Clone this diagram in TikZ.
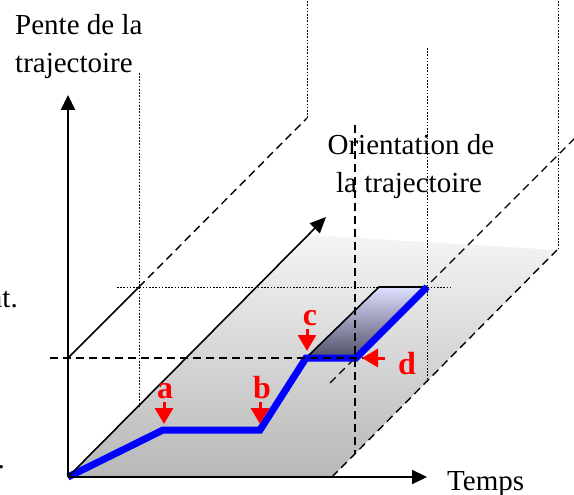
\documentclass[tikz,border=0pt]{standalone}
\usepackage{fontspec}
\setmainfont{Liberation Serif}
\usetikzlibrary{arrows.meta}
\tikzset{
  axisline/.style={line width=2.2pt, -{Triangle[length=15pt,width=14pt]}},
  thinline/.style={line width=1.6pt},
  dashline/.style={line width=1.4pt, dash pattern=on 8pt off 5pt},
  dotline/.style={line width=0.8pt, dash pattern=on 1.6pt off 1.6pt},
  redarrow/.style={red, line width=3pt, -{Triangle[length=16pt,width=18pt]}},
  bluepath/.style={blue, line width=7pt, line join=miter},
  lbl/.style={inner sep=0pt, font=\fontsize{29}{34}\selectfont},
  redlbl/.style={inner sep=0pt, text=red, font=\fontsize{32}{36}\selectfont\bfseries},
}
\begin{document}
\begin{tikzpicture}[x=1pt,y=-1pt]
\useasboundingbox (0,0) rectangle (574,495);
% key points
\coordinate (O) at (68,477);
\coordinate (B) at (332,477);
\coordinate (C) at (557,250);
\coordinate (D) at (310,235);
\coordinate (Ytip) at (68,95);
\coordinate (Xtip) at (427,477);
\coordinate (Ztip) at (326,217);
\coordinate (Pa) at (163,430);
\coordinate (Pb) at (260,430);
\coordinate (Pc) at (306,358);
\coordinate (Pd) at (356,358);
\coordinate (Pe) at (427,287);
\coordinate (Pf) at (379,287);
% plane
\shade[top color=black!4, bottom color=black!28] (O) -- (B) -- (C) -- (D) -- cycle;
% purple face
\shade[top color={rgb,255:red,222;green,222;blue,255}, bottom color={rgb,255:red,80;green,80;blue,104}] (Pc) -- (Pd) -- (Pe) -- (Pf) -- cycle;
\draw[thinline] (Pc) -- (Pf) -- (Pe);
% dotted lines
\coordinate (v1t) at (139,73);   \coordinate (v1b) at (139,406);
\coordinate (v2t) at (307,-2);   \coordinate (v2b) at (307,118);
\coordinate (v3t) at (427,48);   \coordinate (v3b) at (427,381);
\coordinate (v4t) at (558,-2);   \coordinate (v4b) at (558,249);
\coordinate (h1l) at (117,287);  \coordinate (h1r) at (452,287);
\draw[dotline] (v1t) -- (v1b);
\draw[dotline] (v2t) -- (v2b);
\draw[dotline] (v3t) -- (v3b);
\draw[dotline] (v4t) -- (v4b);
\draw[dotline] (h1l) -- (h1r);
% dashed lines
\coordinate (L2a) at (68,358);  \coordinate (L2b) at (139,287);
\draw[thinline] (L2a) -- (L2b);
\draw[dashline] (L2b) -- (v2b);
\coordinate (L4a) at (330,383); \coordinate (L4b) at (592,121);
\draw[dashline] (L4a) -- (L4b);
\draw[dashline] (B) -- (C);
% blue trajectory
\draw[bluepath] (O) -- (Pa) -- (Pb) -- (Pc) -- (Pd) -- (Pe);
% dashed over blue
\coordinate (H2l) at (50,358);  \coordinate (H2r) at (380,358);
\draw[dashline] (H2l) -- (H2r);
\coordinate (V5t) at (355,125); \coordinate (V5b) at (355,454);
\draw[dashline] (V5t) -- (V5b);
% axes
\draw[axisline] (O) -- (Ytip);
\draw[axisline] (O) -- (Xtip);
\draw[thinline, -{Triangle[length=16pt,width=14pt]}] (O) -- (Ztip);
% red arrows
\coordinate (ra1) at (164,402); \coordinate (ra2) at (164,424);
\coordinate (rb1) at (260,402); \coordinate (rb2) at (260,424);
\coordinate (rc1) at (307,329); \coordinate (rc2) at (307,351);
\coordinate (rd1) at (385,358); \coordinate (rd2) at (362,358);
\draw[redarrow] (ra1) -- (ra2);
\draw[redarrow] (rb1) -- (rb2);
\draw[redarrow] (rc1) -- (rc2);
\draw[redarrow] (rd1) -- (rd2);
\node[redlbl, anchor=base] (la) at (165,398) {a};
\node[redlbl, anchor=base] (lb) at (262,398) {b};
\node[redlbl, anchor=base] (lc) at (310,325) {c};
\node[redlbl, anchor=base] (ld) at (407,374) {d};
% texts
\node[lbl, anchor=base west] (t1) at (15,35) {Pente de la};
\node[lbl, anchor=base west] (t2) at (15,73) {trajectoire};
\node[lbl, anchor=base] (t3) at (411,154) {Orientation de};
\node[lbl, anchor=base] (t4) at (409,193) {la trajectoire};
\node[lbl, anchor=base west] (t5) at (447,490) {Temps};
\node[lbl, anchor=base east] (t6) at (18,307) {nt.};
\node[lbl, anchor=base east] (t7) at (5,468) {.};
\end{tikzpicture}
\end{document}
